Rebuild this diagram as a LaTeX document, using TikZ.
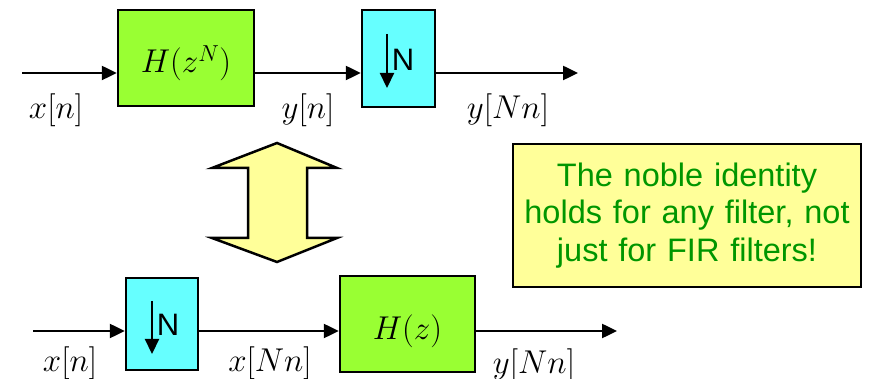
\RequirePackage{fix-cm}
\documentclass[tikz,border=0pt]{standalone}
\usepackage{fontspec}
\newfontfamily\arialfont{Liberation Sans}
\usetikzlibrary{arrows.meta}
\definecolor{boxgreen}{RGB}{153,255,51}
\definecolor{boxcyan}{RGB}{102,255,255}
\definecolor{noteyellow}{RGB}{255,255,153}
\definecolor{notegreen}{RGB}{0,150,0}
\tikzset{
  wire/.style={line width=2.5pt,-{Triangle[length=15pt,width=14pt]}},
  filterbox/.style={draw=black,line width=2.5pt,fill=boxgreen,inner sep=0pt},
  downbox/.style={draw=black,line width=2.5pt,fill=boxcyan,inner sep=0pt},
  mathlbl/.style={font=\fontsize{33}{40}\selectfont,inner sep=0pt},
  nlbl/.style={font=\arialfont\fontsize{31}{34}\selectfont,inner sep=0pt},
  downarrow/.style={line width=2.2pt,-{Triangle[length=15pt,width=14pt]}},
}
\begin{document}
\begin{tikzpicture}[x=1pt,y=-1pt]
\useasboundingbox (0,0) rectangle (879,379);
% ---------- top chain ----------
\coordinate (in1) at (22,73);
\coordinate (out1) at (578,73);
\node[filterbox,minimum width=136pt,minimum height=96pt] (g1) at (186,58) {};
\node[downbox,minimum width=73pt,minimum height=97pt] (d1) at (398.5,58.5) {};
\node[mathlbl,anchor=base] (h1) at (186,73) {$H(z^N)$};
\coordinate (a1s) at (387,34);
\coordinate (a1e) at (387,88);
\draw[downarrow] (a1s) -- (a1e);
\node[nlbl] (n1) at (403,60) {N};
\draw[wire] (in1) -- (in1 -| g1.west);
\draw[wire] (in1 -| g1.east) -- (in1 -| d1.west);
\draw[wire] (in1 -| d1.east) -- (out1);
\node[mathlbl] (lx1) at (56,110) {$x[n]$};
\node[mathlbl] (ly1) at (308,110) {$y[n]$};
\node[mathlbl] (lyN1) at (508,110) {$y[Nn]$};
% ---------- double arrow ----------
\draw[line width=2.5pt,fill=noteyellow,line join=miter] (277,143) -- (337,168) -- (307,168) -- (307,238) -- (337,238)
  -- (277,262) -- (212,238) -- (248,238) -- (248,168) -- (212,168) -- cycle;
% ---------- note ----------
\node[draw=black,line width=2.5pt,fill=noteyellow,minimum width=348pt,minimum height=143pt,inner sep=0pt,
  text width=346pt,align=center,text=notegreen,font=\arialfont\fontsize{32.5}{37.5}\selectfont] (note) at (687,215.5)
  {The noble identity\\holds for any filter, not\\just for FIR filters!};
% ---------- bottom chain ----------
\coordinate (in2) at (33,331);
\coordinate (out2) at (617,331);
\node[downbox,minimum width=72pt,minimum height=92pt] (d2) at (162,324) {};
\node[filterbox,minimum width=135pt,minimum height=96pt] (g2) at (407.5,324) {};
\node[mathlbl,anchor=base] (h2) at (407.5,340) {$H(z)$};
\coordinate (a2s) at (152,301);
\coordinate (a2e) at (152,354);
\draw[downarrow] (a2s) -- (a2e);
\node[nlbl] (n2) at (168,325) {N};
\draw[wire] (in2) -- (in2 -| d2.west);
\draw[wire] (in2 -| d2.east) -- (in2 -| g2.west);
\draw[wire] (in2 -| g2.east) -- (out2);
\node[mathlbl] (lx2) at (70,363) {$x[n]$};
\node[mathlbl] (lx2N) at (270,363) {$x[Nn]$};
\node[mathlbl] (ly2N) at (534,365) {$y[Nn]$};
\end{tikzpicture}
\end{document}
